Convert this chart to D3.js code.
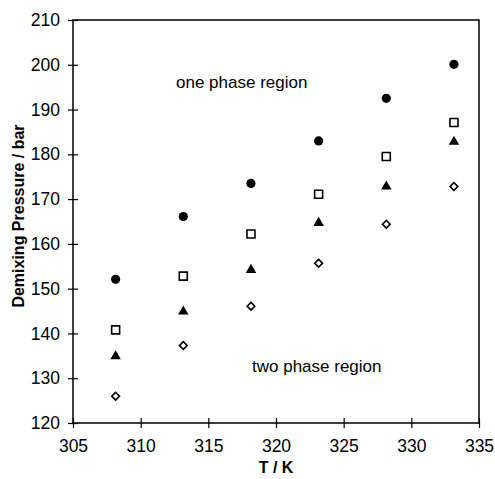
<!DOCTYPE html>
<html lang="en">
<head>
<meta charset="UTF-8">
<title>Demixing pressure</title>
<script src="https://d3js.org/d3.v7.min.js"></script>
<style>
  body { margin: 0; background: #fff; }
  text { font-family: Arial, "Liberation Sans", sans-serif; fill: #000; }
</style>
</head>
<body>
<div id="chart"></div>
<script>
    var width = 495, height = 479;
    var margin = {top: 20, right: 16, bottom: 56, left: 73};

    // temperatures (K)
    var temps = [308.15, 313.15, 318.15, 323.15, 328.15, 333.15];
    // demixing pressures (bar) for each series
    var circles   = [152.1, 166.1, 173.5, 183.0, 192.5, 200.1];
    var squares   = [140.8, 152.8, 162.2, 171.1, 179.5, 187.1];
    var triangles = [134.9, 144.9, 154.2, 164.7, 172.8, 182.8];
    var diamonds  = [126.0, 137.3, 146.1, 155.7, 164.4, 172.8];

    var xTicks = [305, 310, 315, 320, 325, 330, 335];
    var yTicks = [120, 130, 140, 150, 160, 170, 180, 190, 200, 210];

    var svg = d3.select("#chart").append("svg")
        .attr("width", width)
        .attr("height", height);

    var x = d3.scaleLinear().domain([305, 335]).range([margin.left, width - margin.right]);
    var y = d3.scaleLinear().domain([120, 210]).range([height - margin.bottom, margin.top]);

    // frame
    svg.append("rect")
        .attr("x", x(305)).attr("y", y(210))
        .attr("width", x(335) - x(305)).attr("height", y(120) - y(210))
        .attr("fill", "none").attr("stroke", "#000").attr("stroke-width", 1.5);

    // axes, ticks cross the axis line
    var xAxis = svg.append("g")
        .attr("transform", "translate(0," + y(120) + ")")
        .call(d3.axisBottom(x).tickValues(xTicks).tickSize(5).tickPadding(12));
    xAxis.selectAll(".tick line").attr("y1", -5);
    var yAxis = svg.append("g")
        .attr("transform", "translate(" + x(305) + ",0)")
        .call(d3.axisLeft(y).tickValues(yTicks).tickSize(5).tickPadding(8));
    yAxis.selectAll(".tick line").attr("x1", 5);

    svg.selectAll(".domain").remove();
    svg.selectAll(".tick line").attr("stroke", "#000").attr("stroke-width", 1.2);
    svg.selectAll(".tick text").style("font-size", "17.5px").style("font-family", "Arial, 'Liberation Sans', sans-serif");

    // axis titles
    svg.append("text")
        .attr("x", (x(305) + x(335)) / 2).attr("y", 473)
        .attr("text-anchor", "middle")
        .style("font-size", "16px").style("font-weight", "bold")
        .text("T / K");
    svg.append("text")
        .attr("transform", "translate(24," + 216 + ") rotate(-90)")
        .attr("text-anchor", "middle")
        .style("font-size", "16px").style("font-weight", "bold")
        .text("Demixing Pressure / bar");

    // region labels
    svg.append("text")
        .attr("x", 176).attr("y", 88)
        .style("font-size", "17px")
        .text("one phase region");
    svg.append("text")
        .attr("x", 252).attr("y", 372)
        .style("font-size", "17px")
        .text("two phase region");

    function drawSeries(vals, symType, size, fill, rot) {
        svg.append("g").selectAll("path")
            .data(vals)
            .enter()
            .append("path")
            .attr("d", d3.symbol().type(symType).size(size))
            .attr("transform", function(d, i) {
                return "translate(" + x(temps[i]) + "," + y(d) + ") rotate(" + rot + ")";
            })
            .attr("fill", fill)
            .attr("stroke", "#000")
            .attr("stroke-width", fill == "#fff" ? 1.6 : 0);
    }

    drawSeries(circles, d3.symbolCircle, 66, "#000", 0);
    drawSeries(squares, d3.symbolSquare, 64, "#fff", 0);
    drawSeries(triangles, d3.symbolTriangle, 48, "#000", 0);
    drawSeries(diamonds, d3.symbolSquare, 30, "#fff", 45);
</script>
</body>
</html>
